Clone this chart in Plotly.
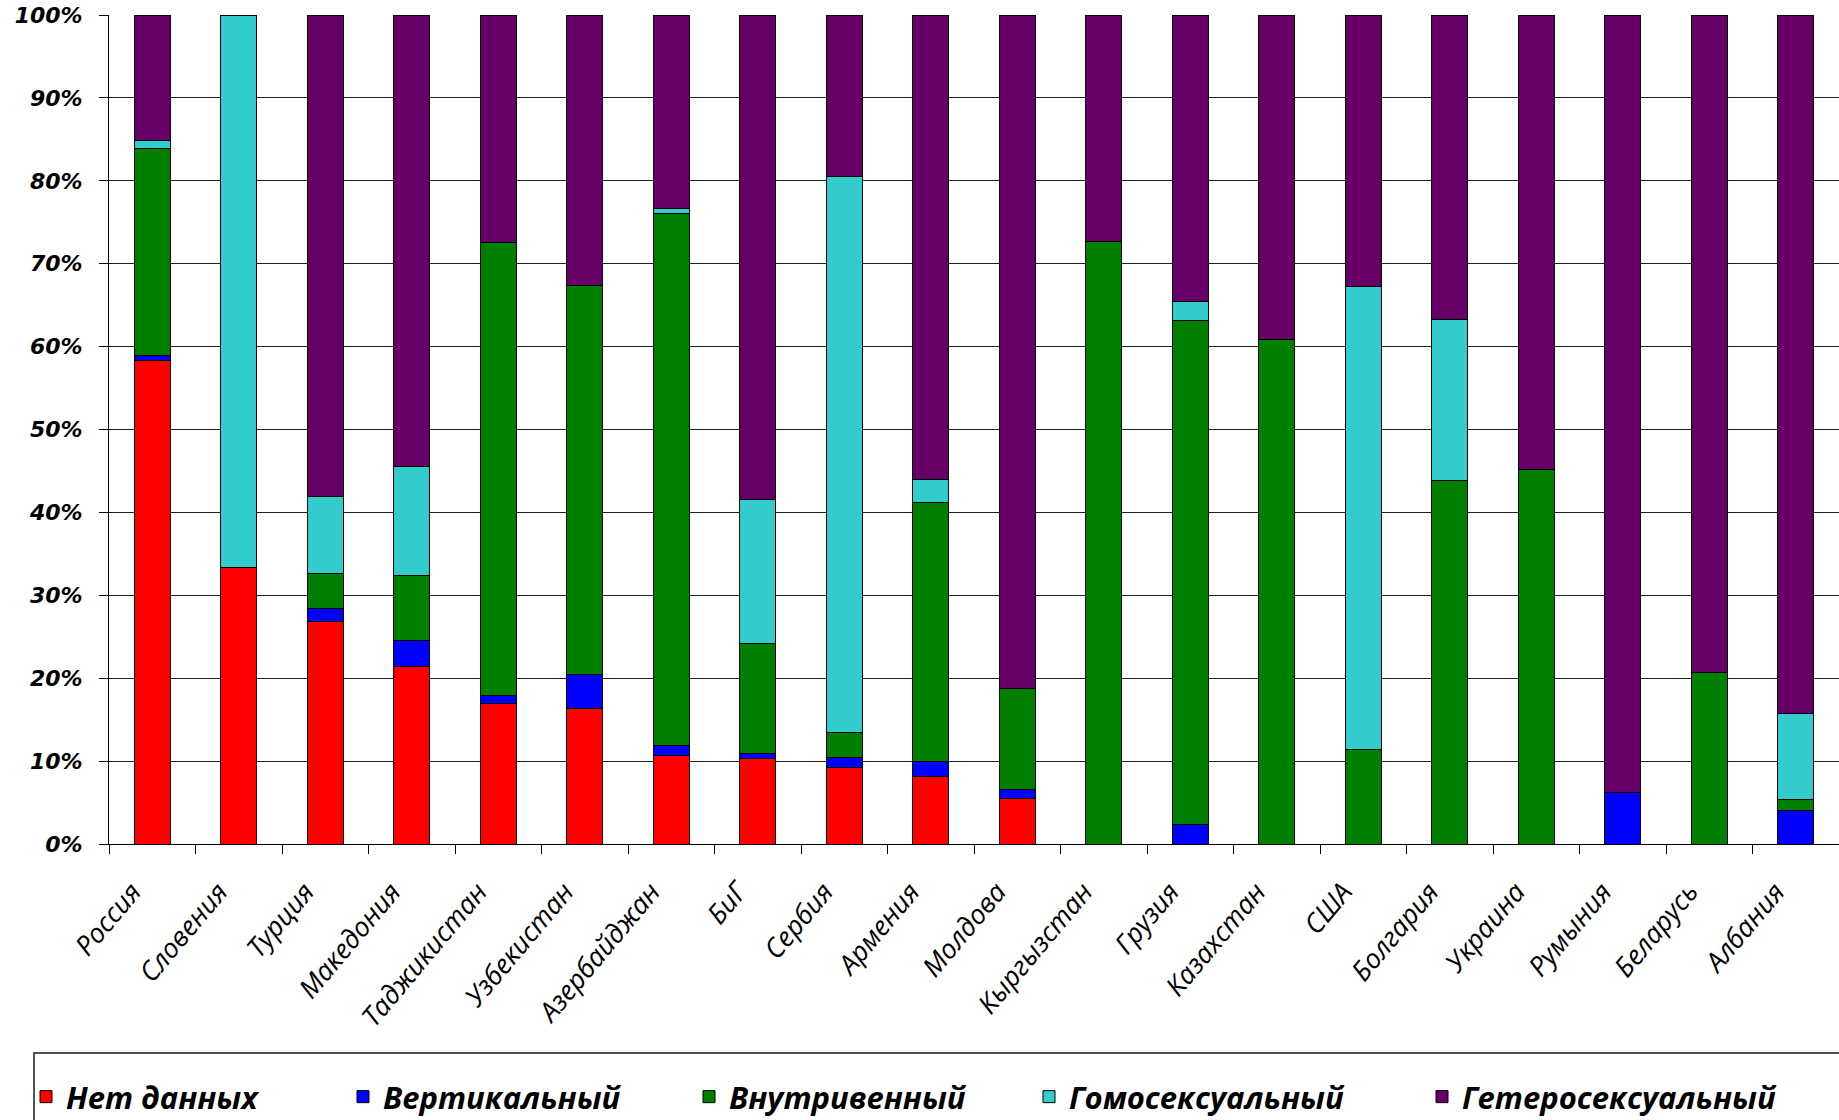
import plotly.graph_objects as go

countries = ["Россия", "Словения", "Турция", "Македония", "Таджикистан", "Узбекистан",
             "Азербайджан", "БиГ", "Сербия", "Армения", "Молдова", "Кыргызстан",
             "Грузия", "Казахстан", "США", "Болгария", "Украина", "Румыния",
             "Беларусь", "Албания"]

no_data = [58.3, 33.3, 26.9, 21.4, 16.9, 16.4, 10.7, 10.3, 9.2, 8.2, 5.5, 0, 0, 0, 0, 0, 0, 0, 0, 0]
vertical = [0.6, 0, 1.5, 3.1, 1.0, 4.1, 1.2, 0.6, 1.2, 1.8, 1.1, 0, 2.3, 0, 0, 0, 0, 6.2, 0, 4.0]
intravenous = [25.0, 0, 4.2, 7.9, 54.6, 46.9, 64.1, 13.3, 3.1, 31.2, 12.2, 72.7, 60.9, 60.8, 11.4, 43.9, 45.2, 0, 20.7, 1.4]
homosexual = [1.0, 66.7, 9.3, 13.1, 0, 0, 0.6, 17.3, 67.0, 2.8, 0, 0, 2.2, 0, 55.8, 19.4, 0, 0, 0, 10.3]
heterosexual = [15.1, 0, 58.1, 54.5, 27.5, 32.6, 23.4, 58.5, 19.5, 56.0, 81.2, 27.3, 34.6, 39.2, 32.8, 36.7, 54.8, 93.8, 79.3, 84.3]

y_tick_values = list(range(0, 101, 10))
y_tick_labels = [f"{v}%" for v in y_tick_values]

series_names = ["Нет данных", "Вертикальный", "Внутривенный", "Гомосексуальный", "Гетеросексуальный"]
series_values = [no_data, vertical, intravenous, homosexual, heterosexual]
series_colors = ["#FF0000", "#0000FF", "#007F00", "#33CCCC", "#660066"]
legend_ids = ["legend", "legend2", "legend3", "legend4", "legend5"]
legend_left_px = [26, 343, 689, 1029, 1422]

W, H = 1839, 1120
ML, MR, MT, MB = 109, 0, 15, 276
PW = W - ML - MR
PH = H - MT - MB

def px_to_paper_x(px):
    return (px - ML) / PW

def py_to_paper_y(py):
    return (H - MB - py) / PH

fig = go.Figure()
for name, vals, col, lid in zip(series_names, series_values, series_colors, legend_ids):
    fig.add_trace(go.Bar(
        x=countries,
        y=[v if v else None for v in vals],
        name=name,
        marker=dict(color=col, line=dict(color="#000000", width=1)),
        legend=lid,
    ))

legend_font = dict(family="Open Sans", size=31, color="#000000", weight="bold", style="italic")
legend_layout = {}
for lid, lx in zip(legend_ids, legend_left_px):
    legend_layout[lid] = dict(
        xref="container", yref="container",
        x=lx / W, xanchor="left",
        y=1 - 1097 / H, yanchor="middle",
        orientation="h", font=legend_font,
        bgcolor="rgba(0,0,0,0)", borderwidth=0,
    )

fig.update_layout(
    width=W, height=H,
    margin=dict(l=ML, r=MR, t=MT, b=MB, pad=0, autoexpand=False),
    barmode="stack",
    bargap=0.58,
    plot_bgcolor="#FFFFFF",
    paper_bgcolor="#FFFFFF",
    showlegend=True,
    **legend_layout,
)

fig.update_yaxes(
    range=[0, 100],
    tickvals=y_tick_values,
    ticktext=y_tick_labels,
    showgrid=True, gridcolor="#202020", gridwidth=1,
    zeroline=False,
    showline=True, linecolor="#000000", linewidth=1,
    ticks="outside", ticklen=9, tickcolor="#000000", tickwidth=1,
    ticklabelstandoff=12,
    automargin=False,
    tickfont=dict(family="DejaVu Sans", size=22, color="#000000", weight="bold", style="italic"),
)
fig.update_xaxes(
    showgrid=False,
    showline=True, linecolor="#000000", linewidth=1,
    ticks="outside", tickson="boundaries", ticklen=9, tickcolor="#000000", tickwidth=1,
    tickangle=-50,
    ticklabelstandoff=20,
    ticklabelshift=-20,
    automargin=False,
    tickfont=dict(family="Open Sans", size=27, color="#000000", style="italic"),
)

# legend frame
fig.add_shape(
    type="rect", xref="paper", yref="paper",
    x0=px_to_paper_x(34), x1=px_to_paper_x(1850),
    y0=py_to_paper_y(1053), y1=py_to_paper_y(1135),
    line=dict(color="#505050", width=2), fillcolor="rgba(0,0,0,0)",
)

fig.write_html("out.html",
               config={"displayModeBar": False},
               post_script="document.body.style.margin='0';document.body.style.overflow='hidden';")
